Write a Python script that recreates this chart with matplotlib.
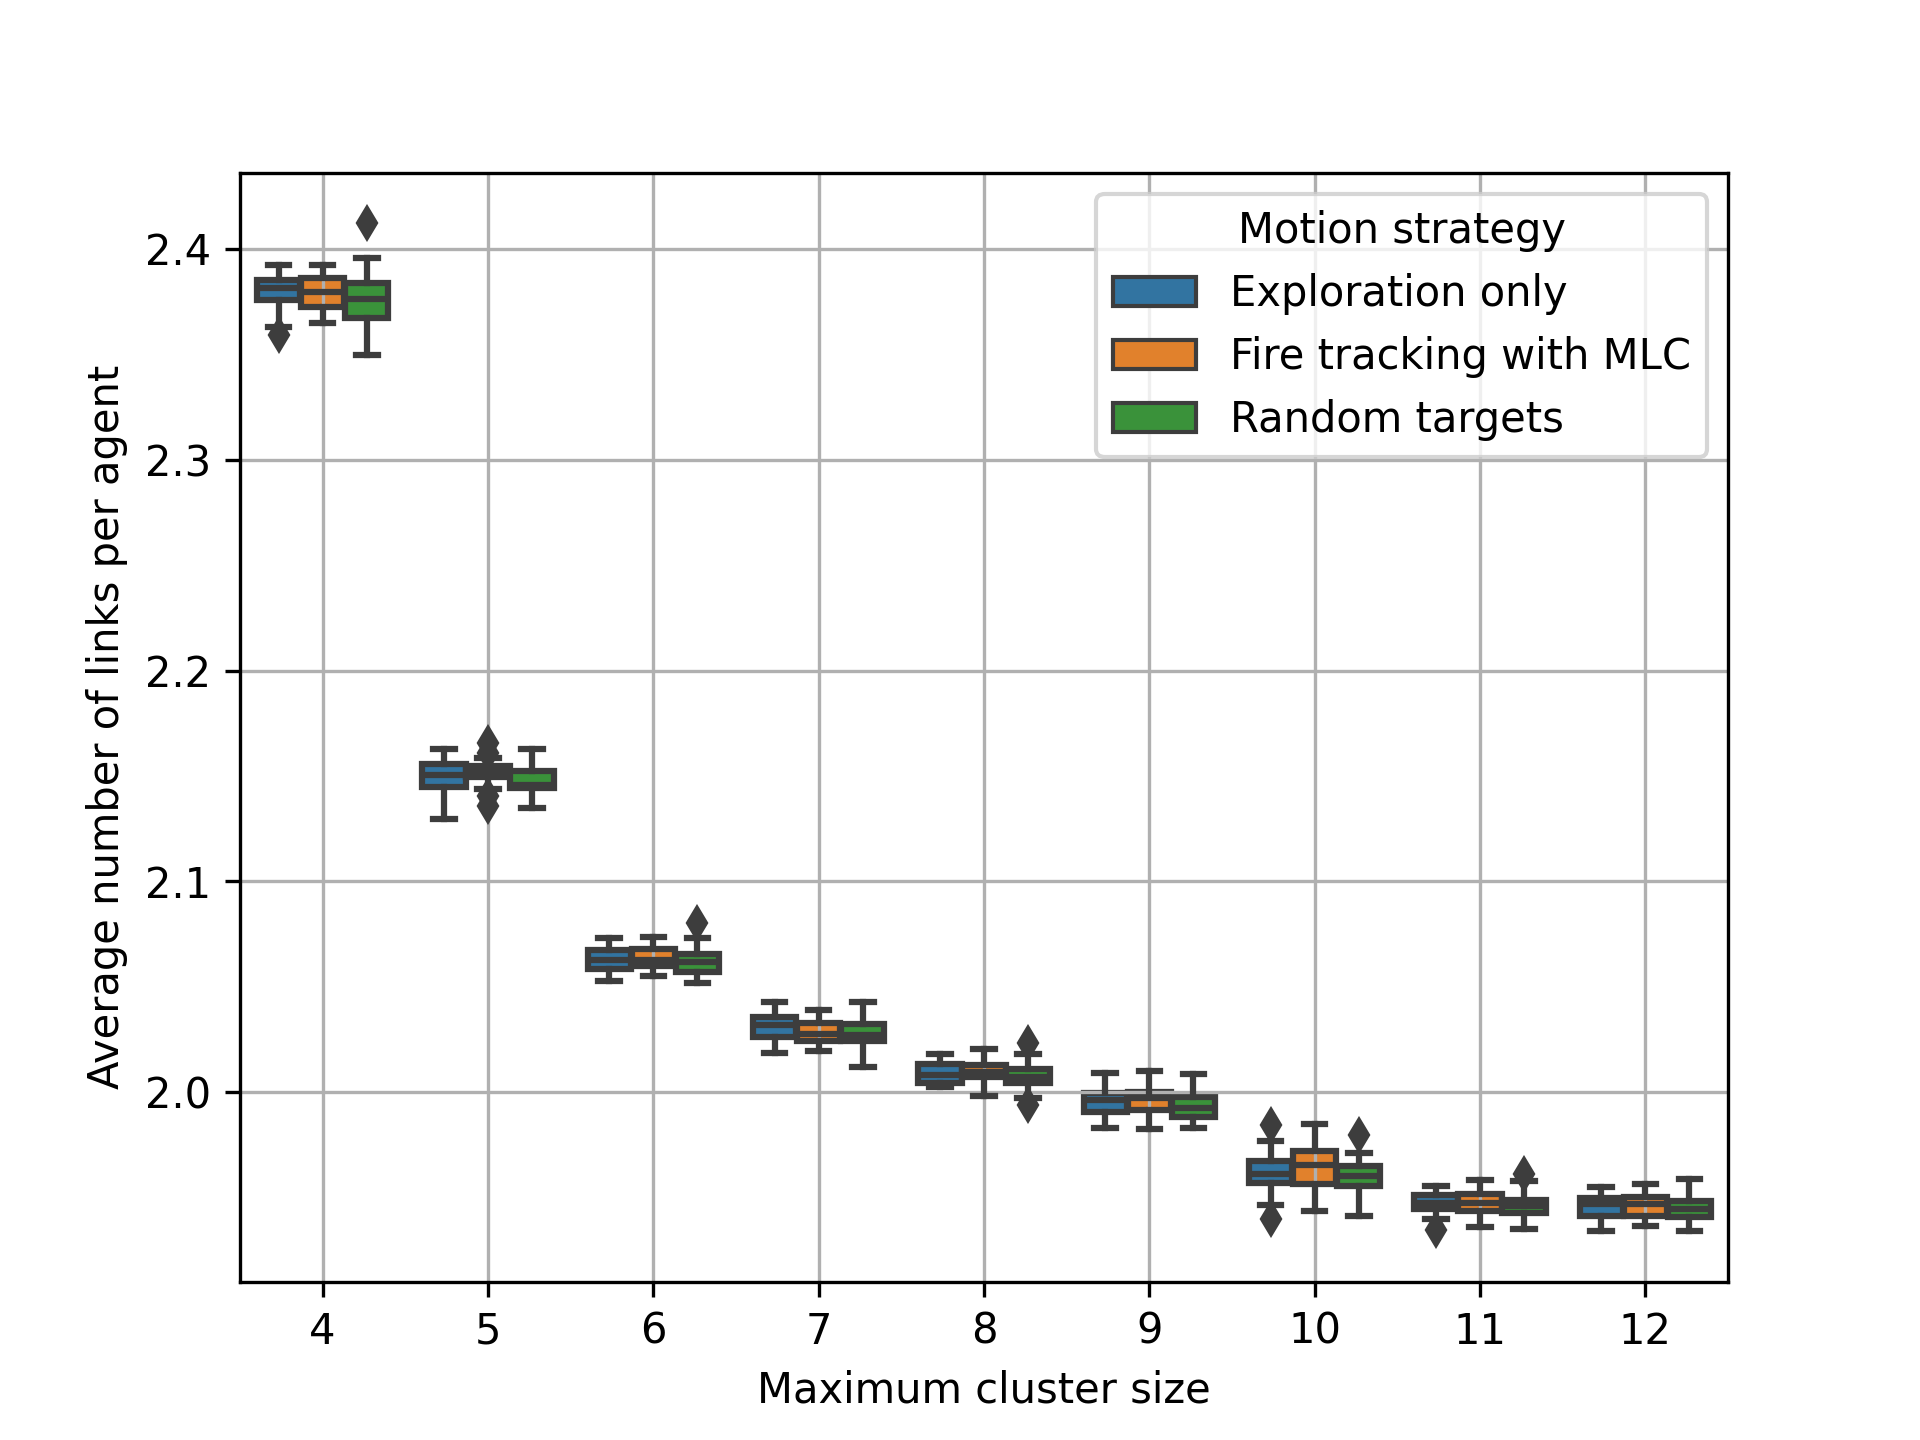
import colorsys
import matplotlib
matplotlib.use("Agg")
import matplotlib.pyplot as plt
from matplotlib.patches import Rectangle

# box statistics: whisker low, q1, median, q3, whisker high
sizes = [4, 5, 6, 7, 8, 9, 10, 11, 12]
strategies = ["Exploration only", "Fire tracking with MLC", "Random targets"]

explo_lo = [2.3629, 2.1295, 2.0529, 2.0185, 2.0025, 1.9832, 1.9467, 1.9398, 1.9343]
explo_q1 = [2.3759, 2.1450, 2.0585, 2.0261, 2.0044, 1.9908, 1.9571, 1.9445, 1.9415]
explo_med = [2.3815, 2.1505, 2.0629, 2.0321, 2.0083, 1.9965, 1.9612, 1.9476, 1.9470]
explo_q3 = [2.3854, 2.1559, 2.0674, 2.0359, 2.0134, 1.9998, 1.9676, 1.9511, 1.9497]
explo_hi = [2.3924, 2.1627, 2.0733, 2.0430, 2.0182, 2.0093, 1.9770, 1.9556, 1.9552]
explo_fl = [[2.3592], [], [], [], [], [], [1.9843, 1.9397], [1.9345], []]

fire_lo = [2.3650, 2.1437, 2.0553, 2.0197, 1.9984, 1.9827, 1.9437, 1.9362, 1.9367]
fire_q1 = [2.3725, 2.1496, 2.0598, 2.0245, 2.0071, 1.9915, 1.9566, 1.9438, 1.9413]
fire_med = [2.3796, 2.1522, 2.0625, 2.0277, 2.0095, 1.9974, 1.9657, 1.9473, 1.9469]
fire_q3 = [2.3862, 2.1548, 2.0681, 2.0330, 2.0128, 2.0001, 1.9723, 1.9518, 1.9505]
fire_hi = [2.3924, 2.1584, 2.0738, 2.0390, 2.0205, 2.0102, 1.9850, 1.9584, 1.9565]
fire_fl = [[], [2.1655, 2.1610, 2.1405, 2.1360], [], [], [], [], [], [], []]

rand_lo = [2.3496, 2.1350, 2.0517, 2.0122, 1.9974, 1.9832, 1.9415, 1.9350, 1.9343]
rand_q1 = [2.3671, 2.1445, 2.0571, 2.0242, 2.0043, 1.9884, 1.9557, 1.9428, 1.9410]
rand_med = [2.3763, 2.1455, 2.0618, 2.0270, 2.0074, 1.9927, 1.9603, 1.9462, 1.9448]
rand_q3 = [2.3839, 2.1526, 2.0656, 2.0324, 2.0112, 1.9979, 1.9652, 1.9488, 1.9484]
rand_hi = [2.3959, 2.1629, 2.0733, 2.0427, 2.0180, 2.0088, 1.9713, 1.9581, 1.9589]
rand_fl = [[2.4122], [], [2.0802], [], [2.0232, 1.9938], [], [1.9797], [1.9610], []]

series = [
    (explo_lo, explo_q1, explo_med, explo_q3, explo_hi, explo_fl),
    (fire_lo, fire_q1, fire_med, fire_q3, fire_hi, fire_fl),
    (rand_lo, rand_q1, rand_med, rand_q3, rand_hi, rand_fl),
]

# seaborn-like colours (tab10 desaturated to 0.75) and gray
base = ["#1f77b4", "#ff7f0e", "#2ca02c"]
colors = []
for c in base:
    r, g, b = matplotlib.colors.to_rgb(c)
    h, l, s = colorsys.rgb_to_hls(r, g, b)
    colors.append(colorsys.hls_to_rgb(h, l, s * 0.75))
lum = min(colorsys.rgb_to_hls(*c)[1] for c in colors) * 0.6
gray = (lum, lum, lum)

fig, ax = plt.subplots(figsize=(6.4, 4.8), dpi=300)

n = len(strategies)
each = 0.8 / n
for j, (lo, q1, med, q3, hi, fl) in enumerate(series):
    stats = []
    for i in range(len(sizes)):
        stats.append(dict(whislo=lo[i], q1=q1[i], med=med[i], q3=q3[i],
                          whishi=hi[i], fliers=fl[i]))
    pos = [i + (j - (n - 1) / 2) * each for i in range(len(sizes))]
    art = ax.bxp(stats, positions=pos, widths=each * 0.98, patch_artist=True,
                 manage_ticks=False)
    for box in art["boxes"]:
        box.update(dict(facecolor=colors[j], edgecolor=gray, linewidth=1.5, zorder=0.9))
    for key in ["whiskers", "caps", "medians"]:
        for line in art[key]:
            line.update(dict(color=gray, linewidth=1.5))
    for fli in art["fliers"]:
        fli.update(dict(marker="d", markerfacecolor=gray, markeredgecolor=gray,
                        markersize=5))

ax.set_xticks(range(len(sizes)))
ax.set_xticklabels([str(s) for s in sizes])
ax.set_xlim(-0.5, len(sizes) - 0.5)
ax.set_ylim(1.9102, 2.4361)
ax.set_yticks([2.0, 2.1, 2.2, 2.3, 2.4])
ax.grid(True)
ax.set_xlabel("Maximum cluster size")
ax.set_ylabel("Average number of links per agent")

handles = [Rectangle((0, 0), 0, 0, facecolor=colors[j], edgecolor=gray, linewidth=1.0)
           for j in range(n)]
ax.legend(handles, strategies, title="Motion strategy", loc="upper right")

fig.savefig("out.png", dpi=300)
